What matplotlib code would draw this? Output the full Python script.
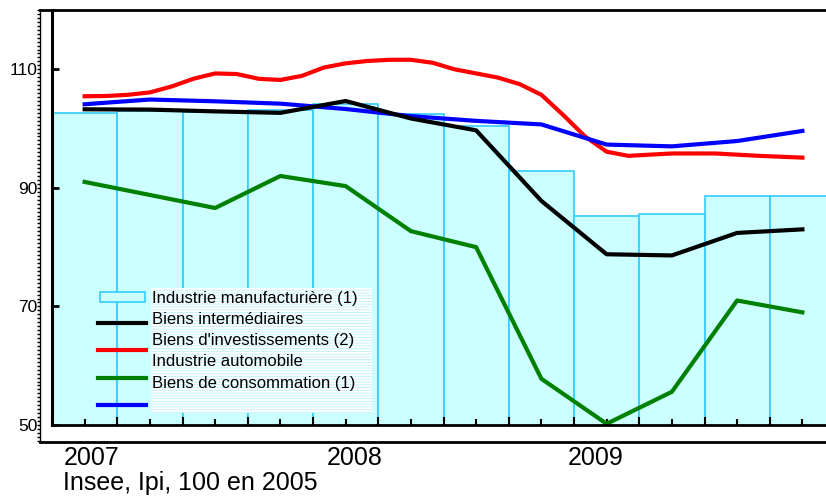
import numpy as np
import matplotlib
matplotlib.use("Agg")
from matplotlib import pyplot as plt
from matplotlib.ticker import MultipleLocator
from matplotlib.patches import Rectangle
from matplotlib.lines import Line2D
from matplotlib.transforms import blended_transform_factory

plt.rcParams['font.family'] = ['Liberation Sans', 'DejaVu Sans']
plt.rcParams['hatch.linewidth'] = 0.7

## data (index, 100 en 2005) ##
quarters = np.arange(2007, 2010, 0.25)            # start of each quarter
manuf = [102.6, 102.9, 102.8, 103.2, 104.1, 102.4, 100.4, 92.8, 85.3, 85.6, 88.6, 88.6]
intermed = [103.25, 103.2, 102.9, 102.65, 104.65, 101.7, 99.7, 87.8, 78.8, 78.6, 82.4, 83.0]
invest = [104.1, 104.9, 104.6, 104.2, 103.3, 102.1, 101.3, 100.7, 97.3, 97.0, 97.9, 99.6]
conso = [91.0, 88.8, 86.6, 92.0, 90.3, 82.7, 80.0, 57.8, 50.2, 55.6, 71.0, 69.0]

months = np.arange(1, 35)                          # feb 2007 .. nov 2009
auto = [105.45, 105.5, 105.7, 106.1, 107.1, 108.4, 109.3, 109.2, 108.4, 108.2,
        108.9, 110.3, 111.0, 111.4, 111.6, 111.6, 111.1, 110.0, 109.3, 108.6,
        107.5, 105.7, 102.3, 98.7, 96.1, 95.4, 95.6, 95.8, 95.8, 95.8,
        95.6, 95.4, 95.25, 95.1]

years = ['2007', '2008', '2009']
year_pos = [2007.153, 2008.161, 2009.084]
labels = ['Industrie manufacturière (1)', 'Biens intermédiaires',
          "Biens d'investissements (2)", 'Industrie automobile',
          'Biens de consommation (1)']
handle_colors = ['black', 'red', 'green', 'blue']

W, H = 826, 498
fig = plt.figure(figsize=(W / 100, H / 100), dpi=100)

## outer frame ##
frame = fig.add_axes([40 / W, 1 - 442 / H, 1.0, (442 - 10) / H], zorder=0)
frame.set_facecolor('none')
frame.set_ylim(50 - 17 / (415 / 70), 120)
frame.set_xticks([])
frame.set_yticks([])
frame.yaxis.set_minor_locator(MultipleLocator(2 / 3))
frame.tick_params(axis='y', which='minor', direction='out', length=2, width=1)
frame.spines['right'].set_visible(False)
frame.spines['left'].set_linewidth(1)
frame.spines['top'].set_linewidth(2)
frame.spines['bottom'].set_linewidth(2)

## main plot ##
ax = fig.add_axes([52 / W, 1 - 425 / H, (835 - 52) / W, (425 - 10) / H], zorder=1)
ax.set_facecolor('none')
ax.bar(quarters, manuf, width=0.25, align='edge',
       color='#ccffff', edgecolor='#33ccff', linewidth=1.2)

xq = quarters + 0.125
xm = 2007 + (months + 0.5) / 12
ax.plot(xm, auto, color='red', lw=3)
ax.plot(xq, invest, color='blue', lw=3)
ax.plot(xq, intermed, color='black', lw=3)
ax.plot(xq, conso, color='green', lw=3)

ax.set_xlim(2007, 2010)
ax.set_ylim(50, 120)
ax.set_yticks([50, 70, 90, 110])
ax.set_xticks(quarters)
ax.set_xticks(xq, minor=True)
ax.tick_params(axis='x', which='major', direction='in', length=6, width=1.5, labelbottom=False)
ax.tick_params(axis='x', which='minor', direction='in', length=4, width=1.5)
ax.tick_params(axis='y', direction='in', length=5, width=2, pad=10.5, labelsize=12.5)
for s in ['top', 'right']:
    ax.spines[s].set_visible(False)
ax.spines['left'].set_linewidth(2.2)
ax.spines['bottom'].set_linewidth(2)

tr = blended_transform_factory(ax.transData, fig.transFigure)
for yr, xp in zip(years, year_pos):
    ax.text(xp, 1 - 458 / H, yr, transform=tr, ha='center', va='center', fontsize=18)
fig.text(63 / W, 1 - 483 / H, 'Insee, Ipi, 100 en 2005', ha='left', va='center', fontsize=18)

## legend (drawn by hand, labels shifted as in the original) ##
fig.patches.append(Rectangle((151 / W, 1 - 413 / H), (372 - 151) / W, (413 - 288) / H,
                             transform=fig.transFigure, facecolor='white',
                             edgecolor='#c4f2fc', linewidth=0, hatch='------', zorder=3))
fig.patches.append(Rectangle((100 / W, 1 - 302 / H), 45 / W, 10 / H,
                             transform=fig.transFigure, facecolor='#ccffff',
                             edgecolor='#33ccff', linewidth=1.2, zorder=3))
for i, c in enumerate(handle_colors):
    yy = 1 - (323 + i * 27.4) / H
    fig.lines.append(Line2D([98 / W, 146 / W], [yy, yy], transform=fig.transFigure,
                            color=c, lw=3, zorder=3))
for i, lab in enumerate(labels):
    fig.text(152 / W, 1 - (298 + i * 21.3) / H, lab, ha='left', va='center',
             fontsize=12, zorder=4)

fig.savefig('out.png', dpi=100)
